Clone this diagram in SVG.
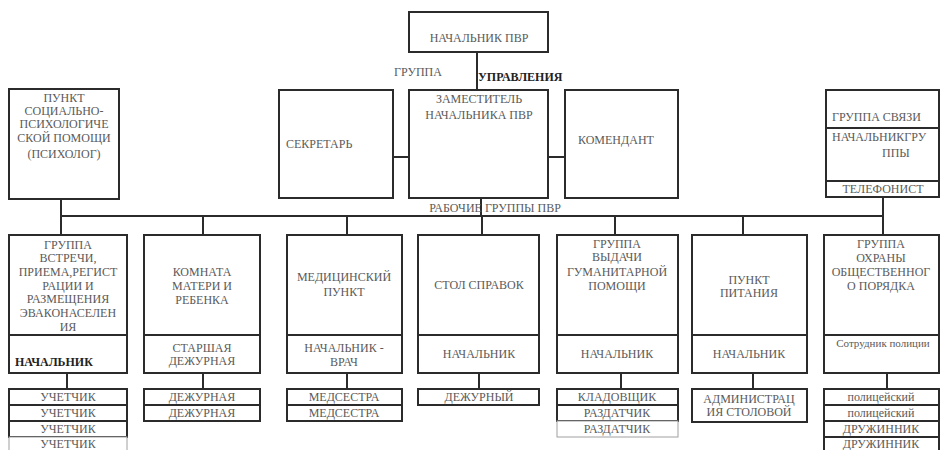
<svg xmlns="http://www.w3.org/2000/svg" width="942" height="450" viewBox="0 0 942 450">
<style>
.b{fill:#fff;stroke:#2b2b2b;stroke-width:2}
.bl{fill:#fff;stroke:#a0a0a0;stroke-width:1}
.d{stroke:#2b2b2b;stroke-width:2;fill:none}
.t{font-family:'Liberation Serif','Times New Roman',serif;font-size:12px;fill:#5a5a5a;text-anchor:middle}
.l{text-anchor:start}
.bd{font-weight:bold;fill:#222}
</style>
<rect width="942" height="450" fill="#fff"/>
<g id="connectors" class="d">
<line x1="477" y1="52" x2="477" y2="90"/>
<line x1="393" y1="157" x2="409" y2="157"/>
<line x1="548" y1="157" x2="565" y2="157"/>
<line x1="61" y1="216" x2="883" y2="216"/>
<line x1="61" y1="199" x2="61" y2="235"/>
<line x1="481" y1="198" x2="481" y2="216"/>
<line x1="883" y1="197" x2="883" y2="235"/>
<line x1="203" y1="216" x2="203" y2="235"/>
<line x1="347" y1="216" x2="347" y2="235"/>
<line x1="482" y1="216" x2="482" y2="235"/>
<line x1="615" y1="216" x2="615" y2="235"/>
<line x1="743" y1="216" x2="743" y2="235"/>
<line x1="67" y1="373" x2="67" y2="389"/>
<line x1="203" y1="373" x2="203" y2="389"/>
<line x1="347" y1="373" x2="347" y2="389"/>
<line x1="479" y1="373" x2="479" y2="389"/>
<line x1="621" y1="373" x2="621" y2="389"/>
<line x1="753" y1="373" x2="753" y2="389"/>
<line x1="887" y1="373" x2="887" y2="389"/>
</g>
<g id="head">
<rect class="b" x="409" y="12" width="139" height="40"/>
<text class="t" x="479" y="42">НАЧАЛЬНИК  ПВР</text>
</g>
<g id="labels">
<text class="t" x="418" y="76">ГРУППА</text>
<text class="t l bd" x="478" y="81">УПРАВЛЕНИЯ</text>
<text class="t" x="495" y="212">РАБОЧИЕ ГРУППЫ  ПВР</text>
</g>
<g id="psy">
<rect class="b" x="9" y="89" width="110" height="110"/>
<text class="t" x="64" y="102">ПУНКТ</text>
<text class="t" x="64" y="115">СОЦИАЛЬНО-</text>
<text class="t" x="64" y="128">ПСИХОЛОГИЧЕ</text>
<text class="t" x="64" y="142">СКОЙ ПОМОЩИ</text>
<text class="t" x="64" y="158">(ПСИХОЛОГ)</text>
</g>
<g id="secretary">
<rect class="b" x="279" y="90" width="114" height="108"/>
<text class="t l" x="286" y="148">СЕКРЕТАРЬ</text>
</g>
<g id="deputy">
<rect class="b" x="409" y="90" width="139" height="108"/>
<text class="t" x="479" y="103">ЗАМЕСТИТЕЛЬ</text>
<text class="t" x="479" y="119">НАЧАЛЬНИКА  ПВР</text>
</g>
<g id="commandant">
<rect class="b" x="565" y="90" width="113" height="108"/>
<text class="t l" x="578" y="144">КОМЕНДАНТ</text>
</g>
<g id="comms">
<rect class="b" x="826" y="90" width="113" height="107"/>
<line class="d" x1="826" y1="128" x2="939" y2="128"/>
<line class="d" x1="826" y1="181" x2="939" y2="181"/>
<text class="t l" x="832" y="121">ГРУППА СВЯЗИ</text>
<text class="t l" x="832" y="141">НАЧАЛЬНИКГРУ</text>
<text class="t l" x="882" y="157">ППЫ</text>
<text class="t" x="883" y="193">ТЕЛЕФОНИСТ</text>
</g>
<g id="reception">
<rect class="b" x="9" y="235" width="118" height="138"/>
<line class="d" x1="9" y1="335" x2="127" y2="335"/>
<text class="t" x="68" y="249">ГРУППА</text>
<text class="t" x="68" y="262">ВСТРЕЧИ,</text>
<text class="t" x="68" y="276">ПРИЕМА,РЕГИСТ</text>
<text class="t" x="68" y="290">РАЦИИ И</text>
<text class="t" x="68" y="303">РАЗМЕЩЕНИЯ</text>
<text class="t" x="68" y="317">ЭВАКОНАСЕЛЕН</text>
<text class="t" x="68" y="331">ИЯ</text>
<text class="t l bd" x="15" y="366">НАЧАЛЬНИК</text>
<rect class="b" x="9" y="389" width="118" height="16"/>
<rect class="b" x="9" y="405" width="118" height="16"/>
<rect class="b" x="9" y="421" width="118" height="16"/>
<rect class="bl" x="9" y="437" width="118" height="16"/>
<text class="t" x="68" y="401">УЧЕТЧИК</text>
<text class="t" x="68" y="417">УЧЕТЧИК</text>
<text class="t" x="68" y="433">УЧЕТЧИК</text>
<text class="t" x="68" y="448">УЧЕТЧИК</text>
</g>
<g id="mother">
<rect class="b" x="144" y="235" width="116" height="138"/>
<line class="d" x1="144" y1="335" x2="260" y2="335"/>
<text class="t" x="202" y="276">КОМНАТА</text>
<text class="t" x="202" y="290">МАТЕРИ И</text>
<text class="t" x="202" y="304">РЕБЕНКА</text>
<text class="t" x="202" y="352">СТАРШАЯ</text>
<text class="t" x="202" y="365">ДЕЖУРНАЯ</text>
<rect class="b" x="144" y="389" width="116" height="16"/>
<rect class="b" x="144" y="405" width="116" height="16"/>
<text class="t" x="202" y="401">ДЕЖУРНАЯ</text>
<text class="t" x="202" y="417">ДЕЖУРНАЯ</text>
</g>
<g id="medical">
<rect class="b" x="287" y="235" width="115" height="138"/>
<line class="d" x1="287" y1="335" x2="402" y2="335"/>
<text class="t" x="344" y="281">МЕДИЦИНСКИЙ</text>
<text class="t" x="344" y="296">ПУНКТ</text>
<text class="t" x="344" y="352">НАЧАЛЬНИК -</text>
<text class="t" x="344" y="366">ВРАЧ</text>
<rect class="b" x="287" y="389" width="115" height="16"/>
<rect class="b" x="287" y="405" width="115" height="16"/>
<text class="t" x="344" y="401">МЕДСЕСТРА</text>
<text class="t" x="344" y="417">МЕДСЕСТРА</text>
</g>
<g id="info">
<rect class="b" x="418" y="235" width="121" height="138"/>
<line class="d" x1="418" y1="335" x2="539" y2="335"/>
<text class="t" x="479" y="289">СТОЛ СПРАВОК</text>
<text class="t" x="479" y="358">НАЧАЛЬНИК</text>
<rect class="b" x="418" y="389" width="121" height="16"/>
<text class="t" x="479" y="401">ДЕЖУРНЫЙ</text>
</g>
<g id="aid">
<rect class="b" x="557" y="235" width="121" height="138"/>
<line class="d" x1="557" y1="335" x2="678" y2="335"/>
<text class="t" x="617" y="248">ГРУППА</text>
<text class="t" x="617" y="261">ВЫДАЧИ</text>
<text class="t" x="617" y="276">ГУМАНИТАРНОЙ</text>
<text class="t" x="617" y="290">ПОМОЩИ</text>
<text class="t" x="617" y="358">НАЧАЛЬНИК</text>
<rect class="b" x="557" y="389" width="121" height="16"/>
<rect class="b" x="557" y="405" width="121" height="16"/>
<rect class="bl" x="557" y="421" width="121" height="16"/>
<text class="t" x="617" y="401">КЛАДОВЩИК</text>
<text class="t" x="617" y="417">РАЗДАТЧИК</text>
<text class="t" x="617" y="433">РАЗДАТЧИК</text>
</g>
<g id="food">
<rect class="b" x="692" y="235" width="115" height="138"/>
<line class="d" x1="692" y1="335" x2="807" y2="335"/>
<text class="t" x="749" y="284">ПУНКТ</text>
<text class="t" x="749" y="297">ПИТАНИЯ</text>
<text class="t" x="749" y="358">НАЧАЛЬНИК</text>
<rect class="b" x="692" y="389" width="115" height="33"/>
<text class="t" x="749" y="403">АДМИНИСТРАЦ</text>
<text class="t" x="749" y="416">ИЯ СТОЛОВОЙ</text>
</g>
<g id="order">
<rect class="b" x="824" y="235" width="115" height="138"/>
<line class="d" x1="824" y1="335" x2="939" y2="335"/>
<text class="t" x="881" y="248">ГРУППА</text>
<text class="t" x="881" y="262">ОХРАНЫ</text>
<text class="t" x="881" y="276">ОБЩЕСТВЕННОГ</text>
<text class="t" x="881" y="290">О ПОРЯДКА</text>
<text class="t" x="883" y="347" style="font-size:11px">Сотрудник полиции</text>
<rect class="b" x="824" y="389" width="115" height="16"/>
<rect class="b" x="824" y="405" width="115" height="16"/>
<rect class="b" x="824" y="421" width="115" height="16"/>
<rect class="b" x="824" y="437" width="115" height="16"/>
<text class="t" x="881" y="401">полицейский</text>
<text class="t" x="881" y="417">полицейский</text>
<text class="t" x="881" y="433">ДРУЖИННИК</text>
<text class="t" x="881" y="448">ДРУЖИННИК</text>
</g>
</svg>
